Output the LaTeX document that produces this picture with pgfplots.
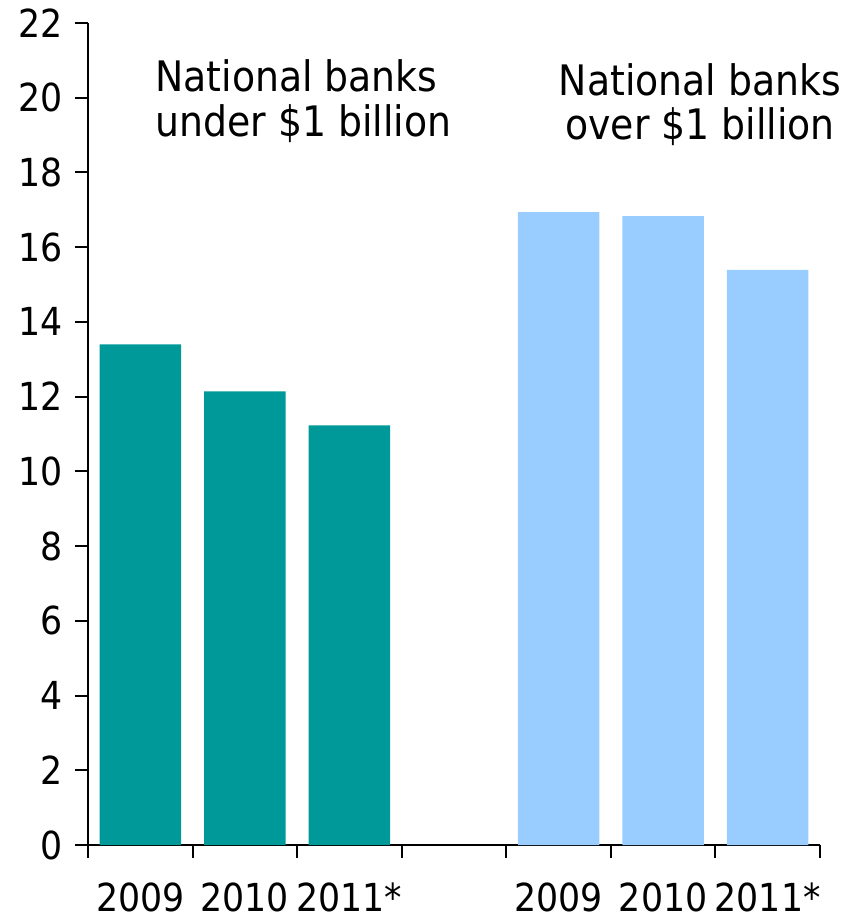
\documentclass[border=0pt]{standalone}
\usepackage{fontspec}
\setmainfont{DejaVu Sans Condensed}
\usepackage{pgfplots}
\pgfplotsset{compat=1.18}
\definecolor{tealA}{HTML}{009999}
\definecolor{lblue}{HTML}{99CCFF}
\begin{document}
\begin{tikzpicture}
\begin{axis}[
  at={(0,0)}, anchor=south west,
  scale only axis, width=366pt, height=411pt,
  xmin=0, xmax=7, ymin=0, ymax=22,
  clip=false,
  axis x line=bottom, axis y line=left,
  axis line style={-, line width=1pt, black},
  tick style={line width=1pt, black},
  tick align=outside, major tick length=6.5pt,
  xtick={0,...,7}, xticklabels={},
  extra x ticks={0.5,1.5,2.5,4.5,5.5,6.5},
  extra x tick labels={2009,2010,2011*,2009,2010,2011*},
  extra x tick style={major tick length=0pt,
    xticklabel style={anchor=base, inner sep=0pt, yshift=-33pt}},
  ytick={0,2,...,22},
  /pgf/number format/assume math mode=true,
  ticklabel style={font=\fontsize{19.3}{23}\selectfont},
  yticklabel style={anchor=east, xshift=-2.5pt},
]
\addplot[ybar, bar width=0.78, fill=tealA, draw=none] coordinates {(0.5,13.4) (1.5,12.14) (2.5,11.23)};
\addplot[ybar, bar width=0.78, fill=lblue, draw=none] coordinates {(4.5,16.94) (5.5,16.83) (6.5,15.39)};
\node[anchor=base west, font=\fontsize{21}{25}\selectfont, inner sep=0pt] at (axis cs:0.641,20.155) {National banks};
\node[anchor=base west, font=\fontsize{21}{25}\selectfont, inner sep=0pt] at (axis cs:0.641,18.95) {under \$1 billion};
\node[anchor=base, font=\fontsize{21}{25}\selectfont, inner sep=0pt] at (axis cs:5.853,20.07) {National banks};
\node[anchor=base, font=\fontsize{21}{25}\selectfont, inner sep=0pt] at (axis cs:5.853,18.87) {over \$1 billion};
\end{axis}
\pgfresetboundingbox
\useasboundingbox (-44pt,-36.5pt) rectangle (385.5pt,422.5pt);
\end{tikzpicture}
\end{document}
